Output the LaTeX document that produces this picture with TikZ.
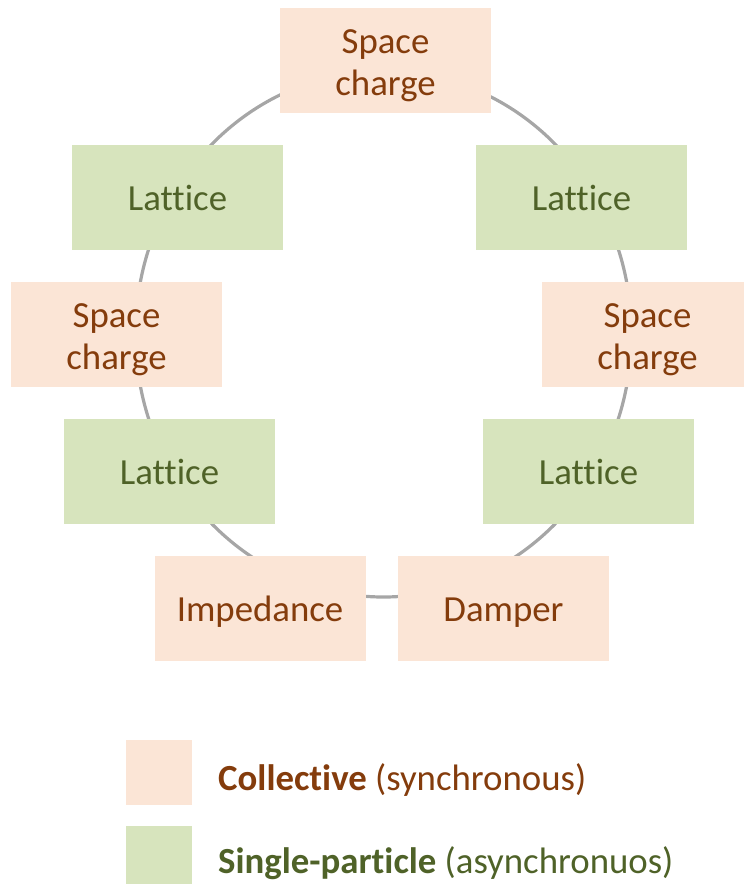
\documentclass[tikz,border=0pt]{standalone}
\usepackage{fontspec}
\setmainfont{Carlito}[Ligatures=CommonOff]
\definecolor{pinkfill}{HTML}{FBE5D6}
\definecolor{pinktext}{HTML}{843C0C}
\definecolor{greenfill}{HTML}{D7E4BD}
\definecolor{greentext}{HTML}{4F6228}
\definecolor{ringgray}{HTML}{A6A6A6}
\newcommand\boxlineone[1]{\raisebox{-13pt}{#1}}
\newcommand\boxlinetwo[2]{\raisebox{7.5pt}{\begin{tabular}[t]{@{}c@{}}#1\\#2\end{tabular}}}
\tikzset{
  box/.style={rectangle, minimum width=211pt, minimum height=105pt, inner sep=0pt,
    text height=0pt, text depth=0pt, font=\fontsize{36.8}{42.3}\selectfont},
  coll/.style={box, fill=pinkfill, text=pinktext},
  single/.style={box, fill=greenfill, text=greentext},
  legtext/.style={anchor=base west, inner sep=0pt, font=\fontsize{36.8}{44}\selectfont},
}
\begin{document}
\begin{tikzpicture}[x=1pt,y=-1pt]
\useasboundingbox (0,0) rectangle (744,884);
\coordinate (ringc) at (383.5,334);
\draw[ringgray, line width=3.2pt] (ringc) ellipse [x radius=248pt, y radius=263pt];
\node[coll] (sctop) at (385.5,60.5) {\boxlinetwo{Space}{charge}};
\node[single] (latTL) at (177.5,197.5) {\boxlineone{Lattice}};
\node[single] (latTR) at (581.5,197.5) {\boxlineone{Lattice}};
\node[coll] (scL) at (116.5,334.5) {\boxlinetwo{Space}{charge}};
\node[coll] (scR) at (647.5,334.5) {\boxlinetwo{Space}{charge}};
\node[single] (latBL) at (169.5,471.5) {\boxlineone{Lattice}};
\node[single] (latBR) at (588.5,471.5) {\boxlineone{Lattice}};
\node[coll] (imp) at (260,608.5) {\boxlineone{Impedance}};
\node[coll] (damp) at (503.5,608.5) {\boxlineone{Damper}};
\fill[pinkfill] (126,740) rectangle (192,805);
\fill[greenfill] (126,826) rectangle (192,884);
\node[legtext, text=pinktext] (legc) at (218,790) {\textbf{Collective} (synchronous)};
\node[legtext, text=greentext] (legs) at (218,873) {\textbf{Single-particle} (asynchronuos)};
\end{tikzpicture}
\end{document}
